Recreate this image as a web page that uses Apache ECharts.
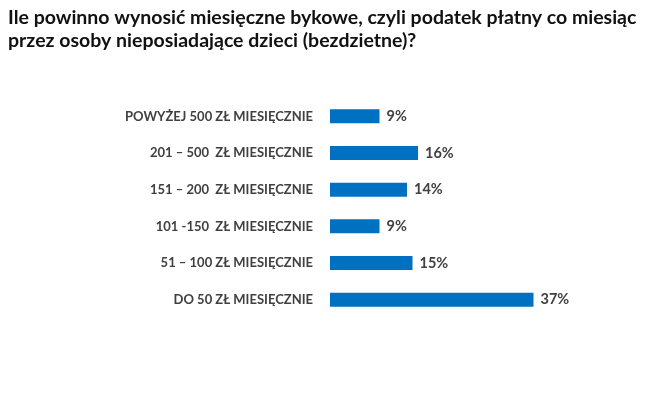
<!DOCTYPE html>
<html><head><meta charset="utf-8">
<script src="https://cdn.jsdelivr.net/npm/echarts@6/dist/echarts.min.js"></script>
<style>html,body{margin:0;padding:0;background:#fff}#c{width:652px;height:393px}</style>
</head><body><div id="c"></div>
<script>
const categories = ["DO 50 ZŁ MIESIĘCZNIE","51 – 100 ZŁ MIESIĘCZNIE","101 -150  ZŁ MIESIĘCZNIE","151 – 200  ZŁ MIESIĘCZNIE","201 – 500  ZŁ MIESIĘCZNIE","POWYŻEJ 500 ZŁ MIESIĘCZNIE"];
const values = [37, 15, 9, 14, 16, 9];
const titleText = "Ile powinno wynosić miesięczne bykowe, czyli podatek płatny co miesiąc\nprzez osoby nieposiadające dzieci (bezdzietne)?";
const chart = echarts.init(document.getElementById('c'), null, {renderer:'canvas'});
chart.setOption({
  animation:false,
  backgroundColor:'#ffffff',
  title:{text:titleText,left:3,top:1,textStyle:{fontFamily:'Lato',fontWeight:'bold',fontSize:19.5,color:'#111111',lineHeight:23}},
  grid:{left:330,right:102,top:98,bottom:75,containLabel:false},
  xAxis:{type:'value',min:0,max:40,show:false},
  yAxis:{type:'category',data:categories,axisLine:{show:false},axisTick:{show:false},
    axisLabel:{margin:17,fontFamily:'Lato',fontWeight:'bold',fontSize:13,color:'#404040'}},
  series:[{type:'bar',data:values,barCategoryGap:'62%',
    itemStyle:{color:'#0070c0'},
    label:{show:true,position:'right',distance:7,formatter:'{c}%',fontFamily:'Lato',fontWeight:'bold',fontSize:14.5,color:'#404040'}}]
});
</script></body></html>
